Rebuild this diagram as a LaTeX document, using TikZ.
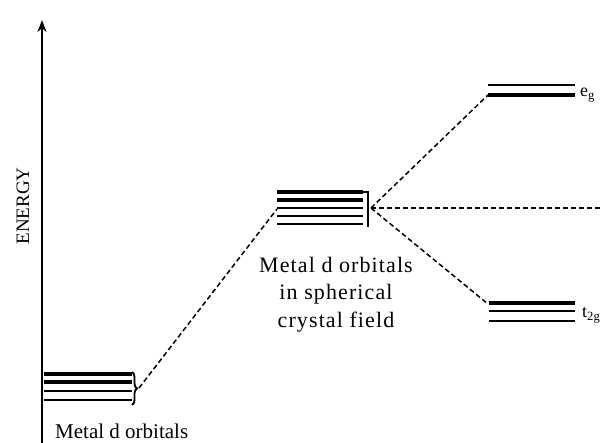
\documentclass[tikz,border=0pt]{standalone}
\usepackage{fontspec}
\setmainfont{Liberation Serif}
\usetikzlibrary{arrows.meta,decorations.pathreplacing}
\begin{document}
\begin{tikzpicture}[x=1pt,y=-1pt,
  thickl/.style={line width=3.4pt},
  thinl/.style={line width=1.8pt},
  dashl/.style={line width=1.5pt, dash pattern=on 5pt off 3pt},
  lbl/.style={inner sep=0pt, font=\fontsize{21}{21}\selectfont},
  mlbl/.style={inner sep=0pt, anchor=base, font=\addfontfeature{LetterSpace=5}\fontsize{22}{22}\selectfont},
  sub/.style={inner sep=0pt, font=\fontsize{18}{18}\selectfont}]
\useasboundingbox (0,0) rectangle (602,443);
\fill[white] (0,0) rectangle (602,443);
% axis
\coordinate (ab) at (42,443);
\coordinate (at) at (42,20);
\draw[line width=2.6pt,-{Stealth[length=12pt,width=9pt]}] (ab) -- (at);
\node[rotate=90, inner sep=0pt, font=\fontsize{19}{19}\selectfont] (energy) at (23,206) {ENERGY};
% bottom levels
\foreach \y/\s in {374/thickl,382/thickl,391/thinl,400/thinl}
  \draw[\s] (44,\y) -- (132,\y);
\draw[thinl, decorate, decoration={brace, amplitude=5pt}] (132,372) -- (132,405);
\coordinate (bt) at (139,388);
\node[lbl, anchor=base west] (bl) at (55,438) {Metal d orbitals};
% middle levels
\foreach \y/\s in {192/thickl,200/thickl,208/thinl,216/thinl,224/thinl}
  \draw[\s] (277,\y) -- (363,\y);
\draw[thinl] (363,192) -- (368,192) -- (368,227);
\coordinate (ml) at (277,209);
\coordinate (mt) at (371,208);
\node[mlbl] (m1) at (336,273) {Metal d orbitals};
\node[mlbl] (m2) at (336,300) {in spherical};
\node[mlbl] (m3) at (336,327) {crystal field};
% eg levels
\draw[thinl] (488,85) -- (575,85);
\draw[thickl] (488,95) -- (575,95);
\coordinate (egl) at (488,95);
\node[sub, anchor=base west] (eg) at (580,97) {e\textsubscript{g}};
% t2g levels
\draw[thickl] (489,303) -- (575,303);
\draw[thinl] (489,311) -- (575,311);
\draw[thinl] (489,321) -- (575,321);
\coordinate (tl) at (488,304);
\node[sub, anchor=base west] (t2g) at (582,318) {t\textsubscript{2g}};
% connectors
\coordinate (re) at (602,208);
\draw[dashl] (bt) -- (ml);
\draw[dashl] (mt) -- (egl);
\draw[dashl] (mt) -- (tl);
\draw[dashl] (mt) -- (re);
\end{tikzpicture}
\end{document}
